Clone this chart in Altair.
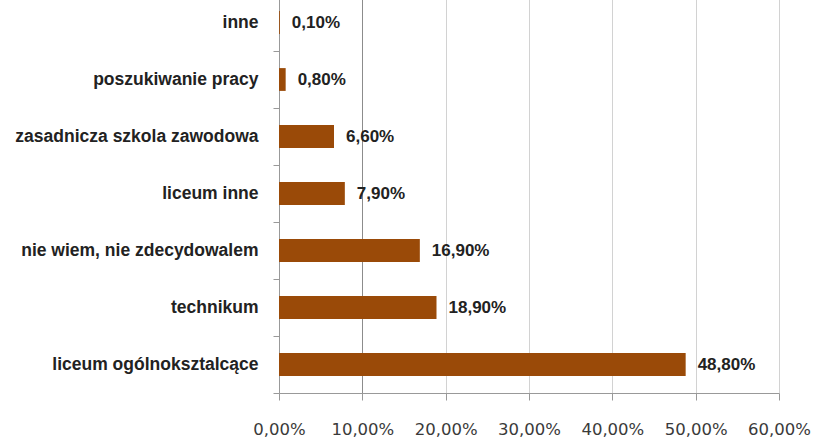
import altair as alt
import pandas as pd

# Kategorie (od góry) i udziały procentowe
categories = [
    "inne",
    "poszukiwanie pracy",
    "zasadnicza szkola zawodowa",
    "liceum inne",
    "nie wiem, nie zdecydowalem",
    "technikum",
    "liceum ogólnoksztalcące",
]
values = [0.1, 0.8, 6.6, 7.9, 16.9, 18.9, 48.8]
tick_values = [0, 10, 20, 30, 40, 50, 60]

df = pd.DataFrame({
    "kategoria": categories,
    "procent": values,
    "etykieta": [f"{v:.2f}".replace(".", ",") + "%" for v in values],
})

AXIS_GRAY = "#999999"

x_enc = alt.X(
    "procent:Q",
    scale=alt.Scale(domain=[0, 60], nice=False),
    axis=alt.Axis(
        title=None,
        values=tick_values,
        labelExpr="replace(format(datum.value, '.2f'), '.', ',') + '%'",
        labelFont="DejaVu Sans",
        labelFontSize=16.5,
        labelColor="#3a3a3a",
        labelPadding=21,
        labelOverlap=False,
        labelBound=False,
        labelFlush=False,
        tickSize=7,
        tickColor=AXIS_GRAY,
        domainColor=AXIS_GRAY,
        grid=True,
        gridColor={"condition": {"test": "datum.value === 10", "value": "#8C8C8C"},
                   "value": "#D2D2D2"},
    ),
)

y_enc = alt.Y(
    "kategoria:N",
    sort=categories,
    scale=alt.Scale(paddingInner=0, paddingOuter=0),
    axis=alt.Axis(
        title=None,
        labelFont="Liberation Sans",
        labelFontWeight="bold",
        labelFontSize=17.5,
        labelColor="#222222",
        labelLimit=400,
        labelPadding=15,
        ticks=True,
        tickBand="extent",
        tickSize=6,
        tickWidth=1,
        tickColor=AXIS_GRAY,
        domainColor=AXIS_GRAY,
        grid=False,
    ),
)

bars = alt.Chart(df).mark_bar(
    color="#9A4A08",
    height=alt.RelativeBandSize(0.4),
).encode(x=x_enc, y=y_enc)

labels = alt.Chart(df).mark_text(
    align="left",
    baseline="middle",
    dx=12,
    font="Liberation Sans",
    fontWeight="bold",
    fontSize=17,
    color="#222222",
).encode(x="procent:Q", y=alt.Y("kategoria:N", sort=categories), text="etykieta:N")

chart = (
    alt.layer(bars, labels)
    .properties(
        width=500,
        height=399,
        autosize=alt.AutoSizeParams(type="none"),
        padding={"left": 279, "top": -6, "right": 35, "bottom": 44},
        background="white",
    )
    .configure_view(stroke=None)
)

chart.save("out.html", embed_options={"renderer": "svg", "actions": False})
